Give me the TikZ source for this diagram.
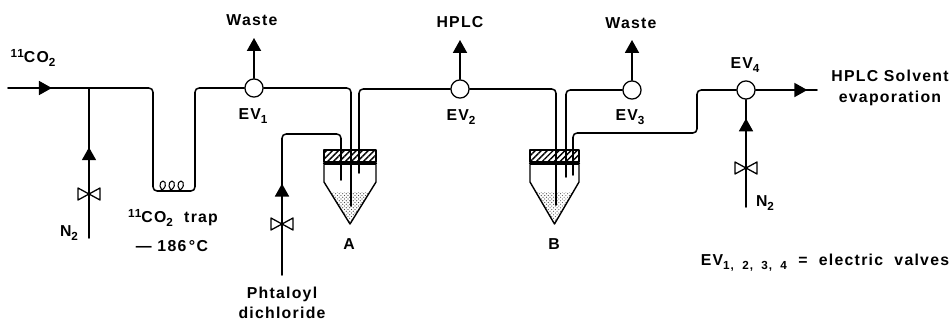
\documentclass[tikz,border=0pt]{standalone}
\usepackage{fontspec}
\setmainfont[LetterSpace=8]{Liberation Sans}
\usetikzlibrary{arrows.meta,patterns,patterns.meta,decorations.markings}
\newcommand{\lowidx}[1]{\raisebox{-3.5pt}{\fontsize{10}{11}\selectfont #1}}
\newcommand{\highidx}[1]{\raisebox{4.5pt}{\fontsize{10}{11}\selectfont #1}}
\tikzset{
  pipe/.style={line width=1.3pt},
  flowtip/.style={postaction={decorate},decoration={markings,
      mark=at position #1 with {\arrow{Triangle[length=11pt,width=12pt]}}}},
  outlet/.style={pipe,-{Triangle[length=11pt,width=12pt]}},
  evalve/.style={circle,draw,fill=white,line width=1.1pt,inner sep=0pt,minimum size=15.5pt},
  vialcap/.style={draw,line width=1.1pt,inner sep=0pt,
    pattern={Lines[angle=45,distance=3.6pt,line width=1.2pt]}},
  lbl/.style={font=\fontsize{13.5}{17.5}\selectfont\bfseries,inner sep=0pt},
  bowtie/.pic={\draw[line width=1.1pt,fill=white] (-11,-6)--(11,6)--(11,-6)--(-11,6)--cycle;}
}
\begin{document}
\begin{tikzpicture}[x=0.03cm,y=-0.03cm,line cap=round,line join=round]
  \useasboundingbox (0,0) rectangle (952,322);

  % The two reaction vials.
  \foreach \vx/\vw/\vl/\vn in {350/26/19.8/A,554.5/24.5/18.7/B}{
    \node[vialcap,minimum width=2*\vw*0.03cm,minimum height=0.36cm] (cap\vn) at (\vx,156) {};
    \fill[pattern=crosshatch dots,pattern color=black!70] (\vx-\vl,192)--(\vx+\vl,192)--(\vx,224)--cycle;
    \draw[line width=1.2pt] (\vx-\vw,165)--(\vx-\vw,182)--(\vx,224)--(\vx+\vw,182)--(\vx+\vw,165);
    \draw[line width=1.8pt] (\vx-\vw,163.5)--(\vx+\vw,163.5);
  }

  \node[evalve] (ev1) at (254,88) {};
  \node[evalve] (ev2) at (460,89) {};
  \node[evalve] (ev3) at (632,90) {};
  \node[evalve] (ev4) at (746,90) {};

  \coordinate (gasin) at (8,88);
  \coordinate (tee) at (89,88);
  \coordinate (nleft) at (89,238);
  \coordinate (trapa) at (153,191);
  \coordinate (trapb) at (195,191);
  \coordinate (needa1) at (351,206);
  \coordinate (needa2) at (359,173);
  \coordinate (needa3) at (341,180);
  \coordinate (benda3) at (341,134);
  \coordinate (phin) at (282,275);
  \coordinate (needb1) at (556,205);
  \coordinate (needb2) at (566,177);
  \coordinate (needb3) at (573,175);
  \coordinate (bendb3) at (697,133);
  \coordinate (nright) at (746,207);
  \coordinate (wastea) at (254,38);
  \coordinate (hplcup) at (460,40);
  \coordinate (wasteb) at (632,40);
  \coordinate (gasout) at (817,90);

  % Main line, valve by valve.
  \draw[pipe,flowtip=37.4pt] (gasin)--(tee);
  \draw[pipe,rounded corners=3.5pt] (tee)-|(trapa)--(trapb)|-(ev1);
  \draw[pipe,rounded corners=3.5pt] (ev1)-|(needa1);
  \draw[pipe,rounded corners=3.5pt] (needa2)|-(ev2);
  \draw[pipe,rounded corners=3.5pt] (ev2)-|(needb1);
  \draw[pipe,rounded corners=3.5pt] (needb2)|-(ev3);
  \draw[pipe,rounded corners=3.5pt] (needb3)|-(bendb3)|-(ev4);
  \draw[pipe,flowtip=44pt] (ev4)--(gasout);

  % Side feeds with their hand valves.
  \pic (valvel) at (89,194) {bowtie};
  \pic (valvep) at (282,224) {bowtie};
  \pic (valver) at (746,168) {bowtie};
  \draw[pipe,flowtip=77.4pt] (nleft)--(tee);
  \draw[pipe,flowtip=78pt,rounded corners=3.5pt] (phin)|-(benda3)--(needa3);
  \draw[pipe,flowtip=75.6pt] (nright)--(ev4);

  \draw[outlet] (ev1)--(wastea);
  \draw[outlet] (ev2)--(hplcup);
  \draw[outlet] (ev3)--(wasteb);

  % Trap coil.
  \foreach \cx in {157,166,175}{
    \draw[line width=0.9pt] (\cx,191) .. controls (\cx+10,191) and (\cx+10,181) .. (\cx+6,181)
      .. controls (\cx+2,181) and (\cx+1,191) .. (\cx+9,191);
  }

  \node[lbl] (lgas) at (33,58) {\highidx{11}CO\lowidx{2}};
  \node[lbl] (lwastea) at (252,20) {Waste};
  \node[lbl] (lhplc) at (460,22) {HPLC};
  \node[lbl] (lwasteb) at (631,23) {Waste};
  \node[lbl] (lev1) at (253,116) {EV\lowidx{1}};
  \node[lbl] (lev2) at (461,117) {EV\lowidx{2}};
  \node[lbl] (lev3) at (630,117) {EV\lowidx{3}};
  \node[lbl] (lev4) at (745,65) {EV\lowidx{4}};
  \node[lbl,align=center] (lout) at (890,88) {HPLC Solvent\\evaporation};
  \node[lbl] (ln2l) at (69,233) {N\lowidx{2}};
  \node[lbl] (ln2r) at (765,203) {N\lowidx{2}};
  \node[lbl] (ltrap) at (173,218) {\highidx{11}CO\lowidx{2}\ \ trap};
  \node[lbl] (ltemp) at (172,246) {---\ 186\,°C};
  \node[lbl,align=center] (lph) at (282,303) {Phtaloyl\\dichloride};
  \node[lbl] (la) at (349,244) {A};
  \node[lbl] (lb) at (554,244) {B};
  \node[lbl] (lnote) at (825,263) {EV\lowidx{1,\ \ 2,\ \ 3,\ \ 4}\ \ =\ \ electric\ \ valves};
\end{tikzpicture}
\end{document}
